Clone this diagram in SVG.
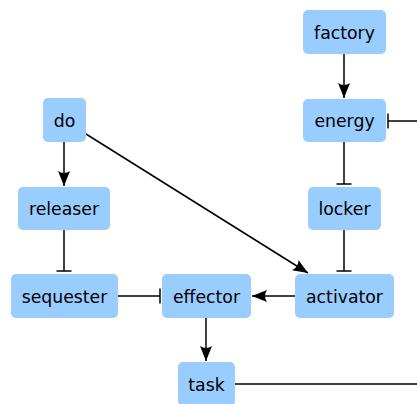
<svg xmlns="http://www.w3.org/2000/svg" width="417" height="404" viewBox="0 0 417 404">
<style>
.n rect{fill:#99ccff;stroke:none}
.n text{font-family:"DejaVu Sans",sans-serif;font-size:17.3px;fill:#000;text-anchor:middle}
.e line,.e path{stroke:#000;stroke-width:1.5;fill:none}
.a{marker-end:url(#arr)}
.t{marker-end:url(#tee)}
</style>
<defs>
<marker id="arr" markerUnits="userSpaceOnUse" markerWidth="16" markerHeight="16" viewBox="0 0 16 16" refX="15" refY="8" orient="auto">
<path d="M0,2 L15,8 L0,14 Q4,8 0,2 z" fill="#000"/>
</marker>
<marker id="tee" markerUnits="userSpaceOnUse" markerWidth="4" markerHeight="16" viewBox="0 0 4 16" refX="2" refY="8" orient="auto">
<line x1="2" y1="0.5" x2="2" y2="15.5" stroke="#000" stroke-width="1.5"/>
</marker>
</defs>
<g id="edges" class="e">
<line class="a" x1="344" y1="54" x2="344" y2="98"/>
<line class="a" x1="64" y1="142" x2="64" y2="186"/>
<line class="a" x1="86" y1="134" x2="308" y2="273"/>
<line class="a" x1="295" y1="296" x2="252" y2="296"/>
<line class="a" x1="206" y1="318" x2="206" y2="361"/>
<line class="t" x1="344" y1="141" x2="344" y2="184"/>
<line class="t" x1="344" y1="230" x2="344" y2="271"/>
<line class="t" x1="64" y1="230" x2="64" y2="271"/>
<line class="t" x1="118" y1="296" x2="160" y2="296"/>
<line x1="235" y1="384" x2="417" y2="384"/>
<line class="t" x1="417" y1="121" x2="388" y2="121"/>
</g>
<g id="factory" class="n"><rect x="303" y="10" width="83" height="44" rx="5"/><text x="344.5" y="38.5">factory</text></g>
<g id="energy" class="n"><rect x="303" y="99" width="83" height="43" rx="5"/><text x="344.5" y="126.5">energy</text></g>
<g id="do" class="n"><rect x="43" y="98" width="43" height="44" rx="5"/><text x="64.5" y="126.5">do</text></g>
<g id="releaser" class="n"><rect x="18" y="187" width="92" height="43" rx="5"/><text x="64" y="214.5">releaser</text></g>
<g id="locker" class="n"><rect x="308" y="187" width="73" height="43" rx="5"/><text x="344.5" y="214.5">locker</text></g>
<g id="sequester" class="n"><rect x="11" y="274" width="107" height="44" rx="5"/><text x="64.5" y="302.5">sequester</text></g>
<g id="effector" class="n"><rect x="162" y="274" width="89" height="44" rx="5"/><text x="206.5" y="302.5">effector</text></g>
<g id="activator" class="n"><rect x="295" y="274" width="99" height="44" rx="5"/><text x="344.5" y="302.5">activator</text></g>
<g id="task" class="n"><rect x="178" y="362" width="57" height="44" rx="5"/><text x="206.5" y="390.5">task</text></g>
</svg>
